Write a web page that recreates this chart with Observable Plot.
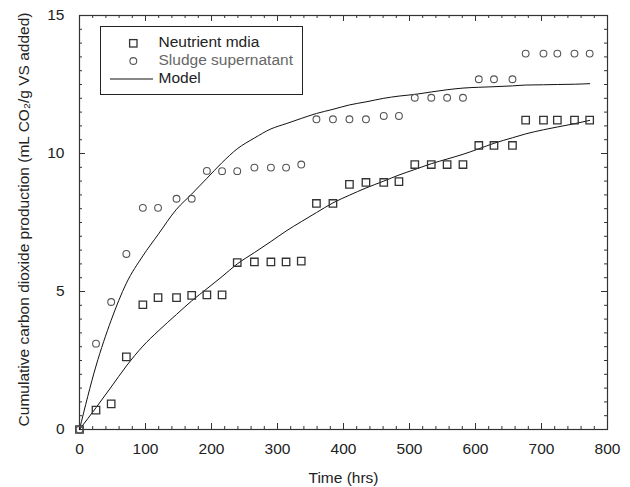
<!DOCTYPE html>
<html>
<head>
<meta charset="utf-8">
<script src="https://cdn.jsdelivr.net/npm/d3@7"></script>
<script src="https://cdn.jsdelivr.net/npm/@observablehq/plot@0.6"></script>
<style>
  html, body { margin: 0; padding: 0; background: #fff; }
  #wrap { position: relative; width: 630px; height: 487px; font-family: "Liberation Sans", Arial, sans-serif; }
  #legend { position: absolute; left: 100px; top: 26px; width: 201px; height: 67px; border: 1px solid #222; background: #fff; }
  #legend svg { position: absolute; left: 0; top: 0; }
</style>
</head>
<body>
<div id="wrap">
  <div id="chart"></div>
  <div id="legend">
    <svg width="201" height="67" font-family="Liberation Sans, Arial, sans-serif" font-size="15.5">
      <rect x="28.6" y="12.6" width="7.4" height="7.4" fill="none" stroke="#333" stroke-width="1.3"></rect>
      <circle cx="32.3" cy="34" r="3.4" fill="none" stroke="#555" stroke-width="1.1"></circle>
      <line x1="9" y1="52" x2="52" y2="52" stroke="#111" stroke-width="1"></line>
      <text x="57.5" y="16.3" dominant-baseline="middle" fill="#222">Neutrient mdia</text>
      <text x="57.5" y="34" dominant-baseline="middle" fill="#666">Sludge supernatant</text>
      <text x="57.5" y="52" dominant-baseline="middle" fill="#222">Model</text>
    </svg>
  </div>
</div>
<script>
// ---- data ----
const time = [0, 25, 48, 71, 96, 119, 147, 170, 193, 216, 239, 265, 290, 313, 336, 359, 384, 409, 434, 461, 484, 508, 533, 557, 581, 605, 628, 656, 676, 703, 724, 750, 773];
const nutrient = [0, 0.70, 0.93, 2.63, 4.52, 4.78, 4.78, 4.86, 4.88, 4.88, 6.05, 6.07, 6.07, 6.07, 6.10, 8.19, 8.19, 8.88, 8.95, 8.95, 8.98, 9.60, 9.60, 9.60, 9.60, 10.29, 10.29, 10.29, 11.21, 11.21, 11.21, 11.21, 11.21];
const sludge = [0, 3.11, 4.62, 6.36, 8.03, 8.03, 8.36, 8.36, 9.37, 9.36, 9.36, 9.49, 9.49, 9.49, 9.60, 11.24, 11.24, 11.24, 11.24, 11.36, 11.36, 12.02, 12.02, 12.02, 12.02, 12.69, 12.69, 12.69, 13.62, 13.62, 13.62, 13.62, 13.62];
const modelNutrient = [0, 0.79, 1.54, 2.30, 3.02, 3.56, 4.17, 4.66, 5.10, 5.54, 6.00, 6.41, 6.81, 7.19, 7.53, 7.86, 8.21, 8.49, 8.75, 9.00, 9.22, 9.42, 9.63, 9.80, 9.97, 10.17, 10.37, 10.57, 10.71, 10.86, 10.96, 11.08, 11.20];
const modelSludge = [0, 2.30, 3.96, 5.30, 6.29, 7.06, 7.98, 8.53, 9.10, 9.67, 10.17, 10.56, 10.89, 11.08, 11.27, 11.45, 11.60, 11.76, 11.87, 12.00, 12.08, 12.14, 12.23, 12.31, 12.37, 12.40, 12.42, 12.45, 12.48, 12.49, 12.50, 12.51, 12.53];

const xMajor = [0, 100, 200, 300, 400, 500, 600, 700, 800];
const xMinor = d3.range(0, 801, 20).filter(v => v % 100 !== 0);
const yMajor = [0, 5, 10, 15];
const yMinor = d3.range(0, 15.01, 0.5).filter(v => v % 5 !== 0);

const xLabel = "Time (hrs)";
const yLabel = "Cumulative carbon dioxide production (mL CO\u2082/g VS added)";

// ---- tables built from the arrays ----
const nutRows = time.map((t, i) => ({t, v: nutrient[i]}));
const sluRows = time.map((t, i) => ({t, v: sludge[i]}));
const mNutRows = time.map((t, i) => ({t, v: modelNutrient[i]}));
const mSluRows = time.map((t, i) => ({t, v: modelSludge[i]}));

const W = 630, H = 487, mL = 79, mR = 23, mT = 15, mB = 58;
const fw = W - mL - mR, fh = H - mT - mB;
const tc = "#333";

const chart = Plot.plot({
  width: W, height: H,
  marginLeft: mL, marginRight: mR, marginTop: mT, marginBottom: mB,
  style: {fontFamily: "Liberation Sans, Arial, sans-serif", fontSize: "15.5px", color: "#222", background: "#fff"},
  x: {domain: [0, 800]},
  y: {domain: [0, 15]},
  marks: [
    Plot.axisX({ticks: xMajor, tickSize: 0, tickPadding: 13, label: null, tickFormat: d3.format("d")}),
    Plot.axisY({ticks: yMajor, tickSize: 0, tickPadding: 15, label: null, tickFormat: d3.format("d")}),
    // inward tick marks on all four sides
    Plot.ruleX(xMajor, {x: d => d, insetTop: fh - 6, stroke: tc}),
    Plot.ruleX(xMinor, {x: d => d, insetTop: fh - 3, stroke: tc}),
    Plot.ruleX(xMajor, {x: d => d, insetBottom: fh - 6, stroke: tc}),
    Plot.ruleX(xMinor, {x: d => d, insetBottom: fh - 3, stroke: tc}),
    Plot.ruleY(yMajor, {y: d => d, insetRight: fw - 6, stroke: tc}),
    Plot.ruleY(yMinor, {y: d => d, insetRight: fw - 3, stroke: tc}),
    Plot.ruleY(yMajor, {y: d => d, insetLeft: fw - 6, stroke: tc}),
    Plot.ruleY(yMinor, {y: d => d, insetLeft: fw - 3, stroke: tc}),
    Plot.frame({stroke: tc, strokeWidth: 1.2}),
    // model curves
    Plot.line(mSluRows, {x: "t", y: "v", stroke: "#111", strokeWidth: 1, curve: "monotone-x"}),
    Plot.line(mNutRows, {x: "t", y: "v", stroke: "#111", strokeWidth: 1, curve: "monotone-x"}),
    // observations
    Plot.dot(nutRows, {x: "t", y: "v", symbol: "square", r: 4.2, stroke: "#333", strokeWidth: 1.3, fill: "none"}),
    Plot.dot(sluRows, {x: "t", y: "v", symbol: "circle", r: 3.4, stroke: "#555", strokeWidth: 1.1, fill: "none"}),
    // axis titles
    Plot.text([xLabel], {frameAnchor: "bottom", text: d => d, dy: 49, lineAnchor: "middle", textAnchor: "middle", fill: "#222"}),
    Plot.text([yLabel], {frameAnchor: "left", text: d => d, rotate: -90, dx: -55, dy: -3, lineAnchor: "middle", textAnchor: "middle", fill: "#222"})
  ]
});
document.getElementById("chart").appendChild(chart);
</script>
</body>
</html>
